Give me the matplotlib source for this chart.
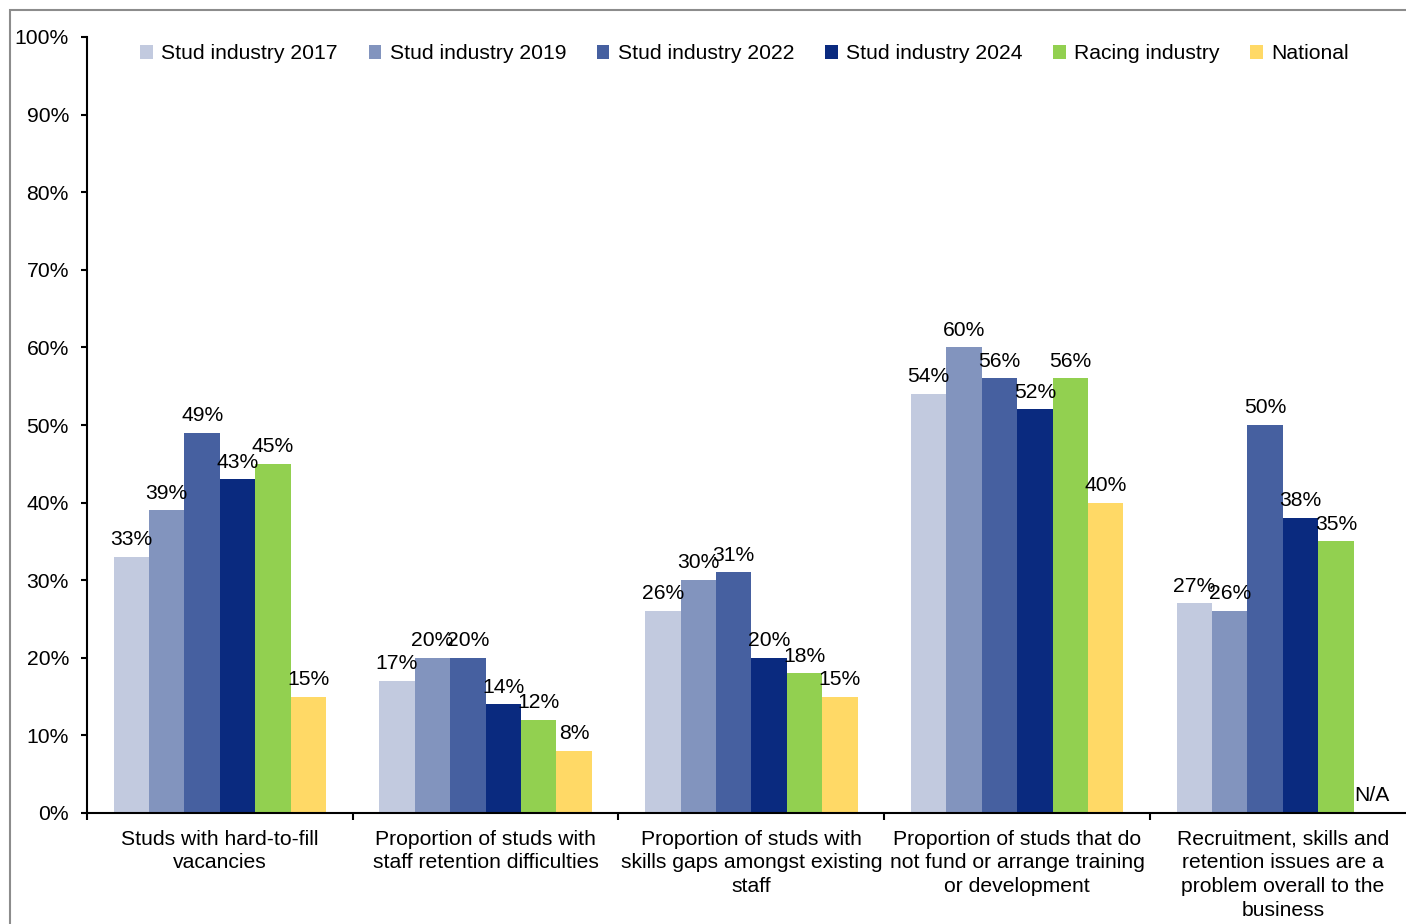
import matplotlib.pyplot as plt
import numpy as np
from matplotlib.patches import Rectangle

plt.rcParams['font.family'] = ['Liberation Sans', 'DejaVu Sans']

categories = [
    "Studs with hard-to-fill\nvacancies",
    "Proportion of studs with\nstaff retention difficulties",
    "Proportion of studs with\nskills gaps amongst existing\nstaff",
    "Proportion of studs that do\nnot fund or arrange training\nor development",
    "Recruitment, skills and\nretention issues are a\nproblem overall to the\nbusiness",
]
series_names = ["Stud industry 2017", "Stud industry 2019", "Stud industry 2022",
                "Stud industry 2024", "Racing industry", "National"]
stud_2017 = [33, 17, 26, 54, 27]
stud_2019 = [39, 20, 30, 60, 26]
stud_2022 = [49, 20, 31, 56, 50]
stud_2024 = [43, 14, 20, 52, 38]
racing = [45, 12, 18, 56, 35]
national = [15, 8, 15, 40, None]  # no national figure for the last group

values = [stud_2017, stud_2019, stud_2022, stud_2024, racing, national]
colors = ["#C2CADF", "#8294BE", "#4660A0", "#0A2A7F", "#92D050", "#FFD966"]

fs = 15.2

fig = plt.figure(figsize=(14.06, 9.24), dpi=100)
ax = fig.add_axes([87 / 1406, 1 - 813 / 924, 1328.75 / 1406, 776 / 924])

# grey outline around the chart area
fig.patches.append(Rectangle((10 / 1406, -0.05), 1.1, 1 - 10 / 924 + 0.05,
                             transform=fig.transFigure, fill=False,
                             edgecolor="#8c8c8c", linewidth=1.5))

x = np.arange(len(categories))
w = 0.8 / 6
for i, (name, vals, c) in enumerate(zip(series_names, values, colors)):
    pos = x - 0.4 + w * (i + 0.5)
    h = [v if v is not None else 0 for v in vals]
    ax.bar(pos, h, width=w, color=c, label=name, linewidth=0)
    for px, v in zip(pos, vals):
        txt = f"{v}%" if v is not None else "N/A"
        ax.text(px, (v or 0) + 1.0, txt, ha="center", va="bottom", fontsize=fs)

ax.set_xlim(-0.5, len(categories) - 0.5)
ax.set_ylim(0, 100)
ax.set_yticks(range(0, 101, 10))
ax.set_yticklabels([f"{t}%" for t in range(0, 101, 10)], fontsize=fs)
ax.set_xticks(x)
ax.set_xticklabels(categories, fontsize=fs, linespacing=1.31)
ax.set_xticks(np.arange(-0.5, len(categories)), minor=True)
ax.tick_params(axis="x", which="major", length=0, pad=12)
ax.tick_params(axis="x", which="minor", length=5, width=1.5, direction="out")
ax.tick_params(axis="y", length=4, width=1.5, direction="out", pad=9)

for s in ["top", "right"]:
    ax.spines[s].set_visible(False)
for s in ["left", "bottom"]:
    ax.spines[s].set_linewidth(1.5)

ax.legend(loc="upper center", bbox_to_anchor=(0.495, 1.015), ncol=6, frameon=False,
          fontsize=fs, handlelength=0.6, handleheight=0.6, handletextpad=0.4,
          columnspacing=1.45)

fig.savefig("out.png", dpi=100)
